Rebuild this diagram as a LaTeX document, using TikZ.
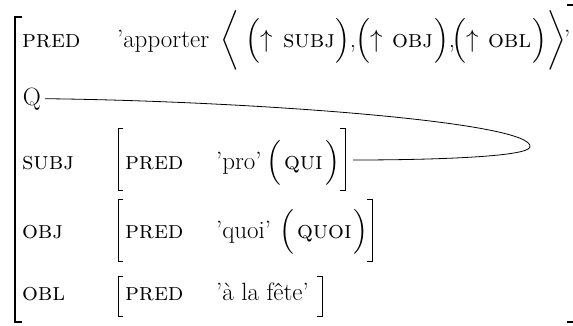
\documentclass[tikz,border=0pt]{standalone}
\usepackage{amsmath}
\newcommand{\avmfont}{\fontsize{25}{30}\selectfont}
\newcommand{\avmlangle}{$\left\langle\vrule height 1.2em depth 0.9em width 0pt\right.$}
\newcommand{\avmrangle}{$\left.\vrule height 1.2em depth 0.9em width 0pt\right\rangle$}
\begin{document}
\begin{tikzpicture}[x=1pt,y=-1pt,
  txt/.style={inner sep=0pt, outer sep=0pt, anchor=base west, font=\avmfont},
  outerbr/.style={line width=1.6pt},
  innerbr/.style={line width=0.9pt},
  link/.style={line width=0.8pt}]
\useasboundingbox (0,0) rectangle (573,325);
% outer bracket
\draw[outerbr] (22,17) -- (15,17) -- (15,322) -- (22,322);
\draw[outerbr] (567,5) -- (573,5);
\draw[outerbr] (567,322) -- (573,322);
% row 1
\node[txt] (pred1) at (22,47) {\textsc{pred}};
\node[txt] (apporter) at (117,47) {'apporter};
\node[txt] (lang) at (220,47) {\avmlangle};
\node[txt] (p1o) at (245,47) {$\Big($};
\node[txt] (up1) at (260,47) {$\uparrow$};
\node[txt] (s1) at (283,47) {\textsc{subj}};
\node[txt] (p1c) at (335,47) {$\Big)$,};
\node[txt] (p2o) at (355,47) {$\Big($};
\node[txt] (up2) at (370,47) {$\uparrow$};
\node[txt] (o1) at (392,47) {\textsc{obj}};
\node[txt] (p2c) at (434,47) {$\Big)$,};
\node[txt] (p3o) at (451,47) {$\Big($};
\node[txt] (up3) at (466,47) {$\uparrow$};
\node[txt] (l1) at (488,47) {\textsc{obl}};
\node[txt] (p3c) at (532,47) {$\Big)$};
\node[txt] (rang) at (546,47) {\avmrangle};
\node[txt] (quote) at (564,47) {'};
% row 2
\node[txt] (q) at (23,105) {Q};
% row 3
\node[txt] (subj) at (22,169) {\textsc{subj}};
\node[txt] (pred3) at (125,169) {\textsc{pred}};
\node[txt] (pro) at (216,169) {'pro'};
\node[txt] (p4o) at (266,169) {$\Big($};
\node[txt] (qui) at (284,169) {\textsc{qui}};
\node[txt] (p4c) at (325,169) {$\Big)$};
\coordinate (l3) at (118,0);
\coordinate (r3) at (345,0);
\draw[innerbr] ([xshift=5pt]l3 |- 0,128) -- (l3 |- 0,128) -- (l3 |- 0,190) -- ([xshift=5pt]l3 |- 0,190);
\draw[innerbr] ([xshift=-5pt]r3 |- 0,128) -- (r3 |- 0,128) -- (r3 |- 0,190) -- ([xshift=-5pt]r3 |- 0,190);
% row 4
\node[txt] (obj) at (22,238) {\textsc{obj}};
\node[txt] (pred4) at (125,238) {\textsc{pred}};
\node[txt] (quoi) at (216,238) {'quoi'};
\node[txt] (p5o) at (279,238) {$\Big($};
\node[txt] (quoiv) at (297,238) {\textsc{quoi}};
\node[txt] (p5c) at (353,238) {$\Big)$};
\coordinate (l4) at (118,0);
\coordinate (r4) at (372,0);
\draw[innerbr] ([xshift=5pt]l4 |- 0,199) -- (l4 |- 0,199) -- (l4 |- 0,261) -- ([xshift=5pt]l4 |- 0,261);
\draw[innerbr] ([xshift=-5pt]r4 |- 0,199) -- (r4 |- 0,199) -- (r4 |- 0,261) -- ([xshift=-5pt]r4 |- 0,261);
% row 5
\node[txt] (obl) at (22,300) {\textsc{obl}};
\node[txt] (pred5) at (125,300) {\textsc{pred}};
\node[txt] (fete) at (216,300) {'à la fête'};
\coordinate (l5) at (118,0);
\coordinate (r5) at (322,0);
\draw[innerbr] ([xshift=5pt]l5 |- 0,276) -- (l5 |- 0,276) -- (l5 |- 0,316) -- ([xshift=5pt]l5 |- 0,316);
\draw[innerbr] ([xshift=-5pt]r5 |- 0,276) -- (r5 |- 0,276) -- (r5 |- 0,316) -- ([xshift=-5pt]r5 |- 0,316);
% connector
\coordinate (subjend) at (353,160);
\coordinate (tip) at (530,147);
\draw[link] ([xshift=4pt]q.east) .. controls (250,101) and (535,122) .. (tip)
            .. controls (528,157) and (430,160) .. (subjend);
\end{tikzpicture}
\end{document}
